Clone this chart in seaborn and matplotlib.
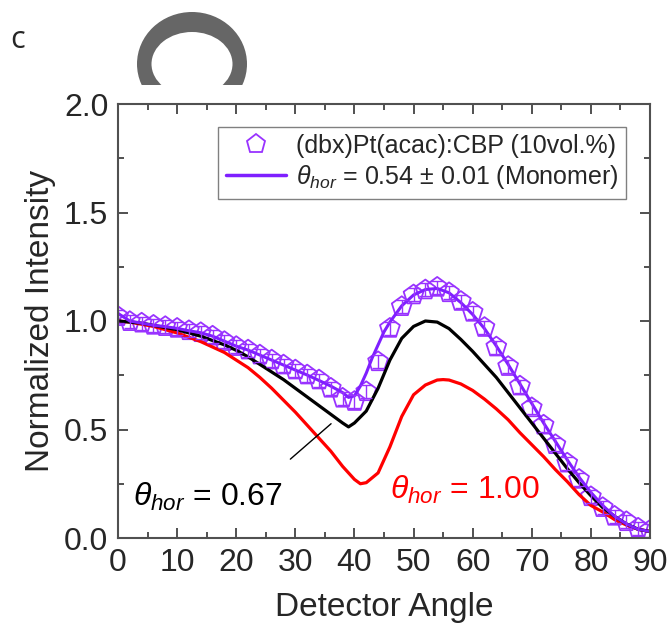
import numpy as np
import pandas as pd
import matplotlib.pyplot as plt
import seaborn as sns
from matplotlib.patches import Ellipse
from matplotlib.lines import Line2D
from matplotlib.ticker import MultipleLocator

sns.set_style("ticks")
plt.rcParams["font.family"] = ["Liberation Sans", "DejaVu Sans"]
plt.rcParams["mathtext.fontset"] = "custom"
plt.rcParams["mathtext.it"] = "Liberation Sans:italic"
plt.rcParams["mathtext.rm"] = "Liberation Sans"

# measured data (every 2 degrees)
angle_data = list(range(0, 92, 2))
intensity_data = [1.02, 0.997, 0.99, 0.98, 0.974, 0.966, 0.955, 0.946, 0.93, 0.905,
                  0.882, 0.866, 0.843, 0.82, 0.797, 0.774, 0.751, 0.728, 0.69, 0.644,
                  0.629, 0.674, 0.812, 0.966, 1.066, 1.12, 1.143, 1.155, 1.13, 1.09,
                  1.04, 0.97, 0.88, 0.79, 0.70, 0.60, 0.52, 0.43, 0.345, 0.27,
                  0.19, 0.14, 0.10, 0.075, 0.045, 0.035]
intensity_err = [0.03] * len(angle_data)

# simulated curves
fit_angle = [0, 2, 4, 6, 8, 10, 12, 14, 16, 18, 20, 22, 24, 26, 28, 30, 32, 34, 36, 38,
             39, 40, 41, 42, 43, 44, 45, 46, 48, 50, 52, 54, 56, 58, 60, 62, 64, 66, 68,
             70, 72, 74, 76, 78, 80, 82, 84, 86, 88, 90]
fit_054 = [1.035, 1.0, 0.99, 0.98, 0.974, 0.966, 0.955, 0.946, 0.93, 0.907,
           0.884, 0.866, 0.843, 0.82, 0.797, 0.774, 0.751, 0.726, 0.70, 0.67,
           0.648, 0.655, 0.70, 0.76, 0.83, 0.89, 0.95, 0.995, 1.07, 1.12,
           1.145, 1.15, 1.13, 1.085, 1.03, 0.965, 0.885, 0.80, 0.71,
           0.62, 0.53, 0.445, 0.36, 0.28, 0.21, 0.15, 0.10, 0.065, 0.04, 0.03]

iso_angle = [0, 2, 4, 6, 8, 10, 12, 14, 16, 18, 20, 22, 24, 26, 28, 30, 32, 34, 36, 38,
             39, 40, 42, 44, 46, 48, 50, 52, 54, 56, 58, 60, 62, 64, 66, 68, 70, 72, 74,
             76, 78, 80, 82, 84, 86, 88, 90]
iso_067 = [1.0, 0.995, 0.99, 0.98, 0.97, 0.96, 0.945, 0.93, 0.91, 0.89,
           0.865, 0.835, 0.80, 0.765, 0.73, 0.69, 0.65, 0.61, 0.57, 0.53,
           0.512, 0.53, 0.585, 0.69, 0.82, 0.92, 0.975, 1.0, 0.995, 0.965,
           0.915, 0.86, 0.80, 0.74, 0.67, 0.60, 0.53, 0.46, 0.39,
           0.32, 0.255, 0.195, 0.14, 0.10, 0.065, 0.04, 0.03]

hor_angle = [0, 2, 4, 6, 8, 10, 12, 14, 16, 18, 20, 22, 24, 26, 28, 30, 32, 34, 36, 38,
             40, 41, 42, 44, 46, 48, 50, 52, 54, 55, 56, 58, 60, 62, 64, 66, 68, 70, 72,
             74, 76, 78, 80, 82, 84, 86, 88, 90]
hor_100 = [1.0, 0.995, 0.985, 0.975, 0.96, 0.945, 0.925, 0.905, 0.88, 0.855,
           0.82, 0.785, 0.74, 0.69, 0.635, 0.58, 0.52, 0.46, 0.40, 0.33,
           0.27, 0.25, 0.255, 0.30, 0.42, 0.56, 0.66, 0.705, 0.728, 0.73,
           0.728, 0.71, 0.68, 0.64, 0.595, 0.545, 0.485, 0.43, 0.375,
           0.315, 0.26, 0.20, 0.15, 0.12, 0.085, 0.06, 0.04, 0.03]

purple_pt = "#9933ff"
purple_ln = "#7f1fff"

curves = pd.concat([
    pd.DataFrame({"angle": hor_angle, "intensity": hor_100, "curve": "hor"}),
    pd.DataFrame({"angle": iso_angle, "intensity": iso_067, "curve": "iso"}),
])

fig = plt.figure(figsize=(6.72, 6.23), dpi=100)
ax = fig.add_axes([118 / 672, 85 / 623, 532 / 672, 434 / 623])

sns.lineplot(data=curves, x="angle", y="intensity", hue="curve",
             palette={"hor": "red", "iso": "black"}, linewidth=2.3,
             estimator=None, sort=False, legend=False, ax=ax)
sns.lineplot(x=fit_angle, y=fit_054, color=purple_ln, linewidth=2.2,
             estimator=None, sort=False, ax=ax)
ax.errorbar(angle_data, intensity_data, yerr=intensity_err, fmt="none",
            ecolor=purple_pt, elinewidth=1.0, capsize=4, capthick=1.0)
sns.scatterplot(x=angle_data, y=intensity_data, marker="p", s=225,
                facecolor="none", edgecolor=purple_pt, linewidth=1.3, ax=ax)

ax.set_xlim(0, 90)
ax.set_ylim(0, 2.0)
ax.xaxis.set_major_locator(MultipleLocator(10))
ax.xaxis.set_minor_locator(MultipleLocator(5))
ax.yaxis.set_major_locator(MultipleLocator(0.5))
ax.yaxis.set_minor_locator(MultipleLocator(0.25))
ax.yaxis.set_major_formatter(plt.FormatStrFormatter("%.1f"))
ax.tick_params(which="both", direction="in", top=True, right=True,
               color="#505050", width=1.4, labelsize=23, pad=7)
ax.tick_params(which="major", length=7)
ax.tick_params(which="minor", length=4)
for sp in ax.spines.values():
    sp.set_color("#505050")
    sp.set_linewidth(1.5)

ax.set_xlabel("Detector Angle", fontsize=24, labelpad=10)
ax.set_ylabel("Normalized Intensity", fontsize=24, labelpad=6)

handles = [
    Line2D([], [], marker="p", ls="none", mfc="none", mec=purple_pt, mew=1.3, ms=14),
    Line2D([], [], color=purple_ln, lw=2.5),
]
labels = ["(dbx)Pt(acac):CBP (10vol.%)",
          r"$\theta_{hor}$ = 0.54 $\pm$ 0.01 (Monomer)"]
leg = ax.legend(handles, labels, loc="upper right", bbox_to_anchor=(0.955, 0.948),
                borderaxespad=0, fontsize=18, frameon=True, fancybox=False,
                framealpha=1, edgecolor="#808080", handlelength=2.4,
                handletextpad=0.4, labelspacing=0.2, borderpad=0.3)
leg.get_frame().set_linewidth(1.0)

ax.text(2.5, 0.19, r"$\theta_{hor}$ = 0.67", fontsize=23, color="black", va="center")
ax.text(46, 0.22, r"$\theta_{hor}$ = 1.00", fontsize=23, color="red", va="center")
ax.annotate("", xy=(36.4, 0.535), xytext=(28.8, 0.355),
            arrowprops=dict(arrowstyle="-", color="black", lw=1.0))

fig.text(18 / 672, 1 - 40 / 623, "c", fontsize=22, family="Open Sans",
         ha="center", va="center")

# grey ring at the top (cut off)
ax_ring = fig.add_axes([120 / 672, 1 - 85 / 623, 150 / 672, 85 / 623])
ax_ring.set_xlim(120, 270)
ax_ring.set_ylim(85, 0)
ax_ring.axis("off")
ax_ring.add_patch(Ellipse((192, 64), 110, 104, color="#666666", lw=0))
ax_ring.add_patch(Ellipse((192, 64), 81, 64, color="white", lw=0))

plt.savefig("out.png", dpi=100)
